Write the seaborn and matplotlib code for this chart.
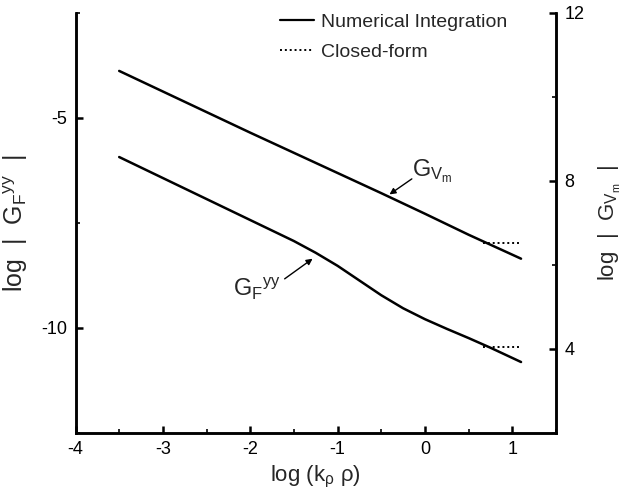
import matplotlib
matplotlib.use("Agg")
import pandas as pd
import matplotlib.pyplot as plt
from matplotlib.lines import Line2D
from matplotlib.ticker import MultipleLocator
import seaborn as sns

# log(k_rho rho) sample points
gf_x = [-3.5, -3.0, -2.5, -2.0, -1.5, -1.25, -1.0, -0.75, -0.5, -0.25, 0.0, 0.25,
        0.5, 0.75, 1.1]
gf_numeric = [-5.93, -6.43, -6.93, -7.43, -7.93, -8.21, -8.52, -8.87, -9.22, -9.53,
              -9.79, -10.02, -10.24, -10.47, -10.81]

gv_x = [-3.5, -3.0, -2.5, -2.0, -1.5, -1.0, -0.5, 0.0, 0.5, 1.1]
gv_numeric = [10.62, 10.13, 9.64, 9.15, 8.67, 8.19, 7.71, 7.22, 6.72, 6.15]

closed_x = [0.66, 1.08]
gf_closed = [-10.45, -10.45]
gv_closed = [6.53, 6.53]

x_ticks = [-4, -3, -2, -1, 0, 1]
left_ticks = [-10, -5]
right_ticks = [4, 8, 12]

sns.set_theme(style="ticks")
plt.rcParams['font.family'] = ['Liberation Sans', 'DejaVu Sans']
plt.rcParams['mathtext.fontset'] = 'custom'
plt.rcParams['mathtext.rm'] = 'Liberation Sans'
plt.rcParams['mathtext.it'] = 'Liberation Sans'
plt.rcParams['mathtext.bf'] = 'Liberation Sans'
plt.rcParams['axes.unicode_minus'] = False

fig = plt.figure(figsize=(6.24, 4.98), dpi=100)
ax = fig.add_axes([0.121, 0.1305, 0.77, 0.8435])
ax2 = ax.twinx()

df_gf = pd.DataFrame({"x": gf_x, "y": gf_numeric})
df_gv = pd.DataFrame({"x": gv_x, "y": gv_numeric})
df_gf_c = pd.DataFrame({"x": closed_x, "y": gf_closed})
df_gv_c = pd.DataFrame({"x": closed_x, "y": gv_closed})

dots = (0, (1.0, 1.5))
sns.lineplot(data=df_gf, x="x", y="y", ax=ax, color="black", lw=1.8, estimator=None)
sns.lineplot(data=df_gf_c, x="x", y="y", ax=ax, color="black", lw=1.4,
             linestyle=dots, estimator=None)
sns.lineplot(data=df_gv, x="x", y="y", ax=ax2, color="black", lw=1.8, estimator=None)
sns.lineplot(data=df_gv_c, x="x", y="y", ax=ax2, color="black", lw=1.4,
             linestyle=dots, estimator=None)

ax.set_xlim(-4, 1.5)
ax.set_ylim(-12.5, -2.5)
ax2.set_ylim(2, 12)

ax.set_xticks(x_ticks)
ax.set_yticks(left_ticks)
ax2.set_yticks(right_ticks)
ax.xaxis.set_minor_locator(MultipleLocator(0.5))
ax.yaxis.set_minor_locator(MultipleLocator(2.5))
ax2.yaxis.set_minor_locator(MultipleLocator(2))

for a in (ax, ax2):
    a.spines['top'].set_visible(False)
    for s in a.spines.values():
        s.set_linewidth(1.8)
        s.set_color("black")
    a.tick_params(which='major', direction='in', length=5, width=1.8,
                  labelsize=13, colors="black", pad=6)
    a.tick_params(which='minor', direction='in', length=3, width=1.4)

ax.set_xlabel(r"log (k$_\mathrm{ρ}$ ρ)", fontsize=16, labelpad=4)
ax.set_ylabel(r"log  |  G$_\mathrm{F}$$^\mathrm{yy}$  |", fontsize=18, labelpad=8)
ax2.set_ylabel(r"log  |  G$_{\mathrm{V}_\mathrm{m}}$  |", fontsize=16, labelpad=9)

# curve labels with short arrows
ax.text(-2.2, -9.23, r"G$_\mathrm{F}$$^\mathrm{yy}$", fontsize=17, ha='left',
        va='baseline')
ax.annotate("", xy=(-1.286, -8.35), xytext=(-1.606, -8.83),
            arrowprops=dict(arrowstyle='-|>', color='black', lw=1.0,
                            shrinkA=0, shrinkB=0, mutation_scale=9))
ax2.text(-0.143, 8.11, r"G$_{\mathrm{V}_\mathrm{m}}$", fontsize=17, ha='left',
         va='baseline')
ax2.annotate("", xy=(-0.406, 7.68), xytext=(-0.15, 8.05),
             arrowprops=dict(arrowstyle='-|>', color='black', lw=1.0,
                             shrinkA=0, shrinkB=0, mutation_scale=9))

handles = [Line2D([], [], color="black", lw=1.6),
           Line2D([], [], color="black", lw=1.4, linestyle=dots)]
fig.legend(handles, ["Numerical Integration", "Closed-form"], loc="upper left",
           bbox_to_anchor=(280 / 624, 1 - 13 / 498), frameon=False, fontsize=14,
           borderpad=0, borderaxespad=0, handlelength=1.75, handletextpad=0.35,
           labelspacing=0.65)

fig.savefig("out.png", dpi=100)
